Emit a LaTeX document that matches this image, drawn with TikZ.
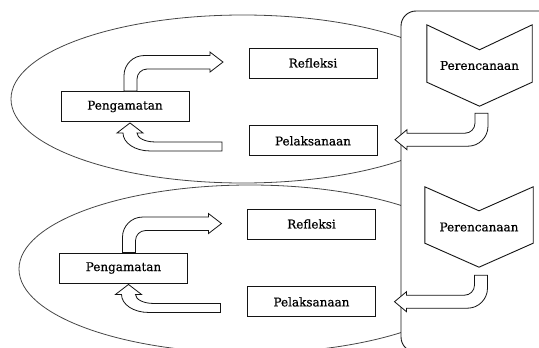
\documentclass[tikz,border=0pt]{standalone}
\usepackage{fontspec}
\setmainfont[FakeBold=0.6]{DejaVu Serif}
\usetikzlibrary{positioning,calc}
\definecolor{ink}{RGB}{20,20,20}
\definecolor{rim}{RGB}{70,70,70}

\begin{document}
\begin{tikzpicture}[
  x=1pt, y=-1pt,
  font=\fontsize{12}{14}\selectfont,
  actbox/.style={draw=ink, fill=white, line width=0.9pt, minimum width=128pt,
    minimum height=30pt, inner sep=0pt},
  planbox/.style={minimum width=105pt, minimum height=81pt, inner sep=0pt},
  chevron/.style={draw=ink, line width=0.9pt},
  blockarr/.style={draw=ink, fill=white, line width=0.8pt},
  phase/.style={draw=rim, line width=0.8pt},
  panel/.style={draw=ink, fill=white, line width=0.9pt, rounded corners=15pt}
]
\useasboundingbox (0,0) rectangle (539,348);
\clip (0,0) rectangle (539,348);
% two cycles behind the planning panel
\draw[phase] (243,99) ellipse [x radius=232pt, y radius=84pt];
\draw[phase] (250,269) ellipse [x radius=231pt, y radius=84pt];
\draw[panel] (401,11) rectangle (570,352);

% first cycle
\node[actbox] (obs1) at (125,106.5) {Pengamatan};
\node[actbox] (refl1) at (313,63) {Refleksi};
\node[actbox, below=47pt of refl1] (pel1) {Pelaksanaan};
\node[planbox] (plan1) at (479.5,65.5) {Perencanaan};
\draw[chevron] (plan1.north west) -- ($(plan1.north)+(0,25)$) -- (plan1.north east)
  -- ($(plan1.south east)+(0,-24)$) -- (plan1.south) -- ($(plan1.south west)+(0,-24)$) -- cycle;
\draw[blockarr, shift={(obs1.north)}] (-1,0) -- (-1,-15.5) .. controls (-1,-26.5) and (8,-35.5) .. (19,-35.5)
  -- (85,-35.5) -- (85,-39) -- (98,-29) -- (85,-19) -- (85,-22) -- (22,-22)
  .. controls (16.5,-22) and (12,-17.5) .. (12,-12) -- (12,0) -- cycle;
\draw[blockarr, shift={(obs1.south)}] (97,20) -- (97,29) -- (25,29) .. controls (10,29) and (-2,21) .. (-2,11)
  -- (-8,11) -- (5,1) -- (18,11) -- (12,11) .. controls (12,16) and (20,20) .. (30,20) -- cycle;
\draw[blockarr, shift={(plan1.south)}] (-4.5,7) -- (8.5,7) -- (8.5,20) .. controls (8.5,31) and (-0.5,40) .. (-11.5,40)
  -- (-72.5,40) -- (-72.5,43.5) -- (-84.5,33.5) -- (-72.5,23.5) -- (-72.5,27) -- (-14.5,27)
  .. controls (-9,27) and (-4.5,22.5) .. (-4.5,17) -- cycle;

% second cycle
\node[actbox] (obs2) at (123.5,268) {Pengamatan};
\node[actbox] (refl2) at (311.5,224) {Refleksi};
\node[actbox, below=47pt of refl2] (pel2) {Pelaksanaan};
\node[planbox, minimum width=108pt, minimum height=80pt] (plan2) at (479,227) {Perencanaan};
\draw[chevron] (plan2.north west) -- ($(plan2.north)+(0,24)$) -- (plan2.north east)
  -- ($(plan2.south east)+(0,-24)$) -- (plan2.south) -- ($(plan2.south west)+(0,-24)$) -- cycle;
\draw[blockarr, shift={(obs2.north)}] (-1,0) -- (-1,-15.5) .. controls (-1,-26.5) and (8,-35.5) .. (19,-35.5)
  -- (85,-35.5) -- (85,-39) -- (98,-29) -- (85,-19) -- (85,-22) -- (22,-22)
  .. controls (16.5,-22) and (12,-17.5) .. (12,-12) -- (12,0) -- cycle;
\draw[blockarr, shift={(obs2.south)}] (97,20) -- (97,29) -- (25,29) .. controls (10,29) and (-2,21) .. (-2,11)
  -- (-8,11) -- (5,1) -- (18,11) -- (12,11) .. controls (12,16) and (20,20) .. (30,20) -- cycle;
\draw[blockarr, shift={(plan2.south)}] (-4.5,8) -- (8.5,8) -- (8.5,21) .. controls (8.5,32) and (-0.5,41) .. (-11.5,41)
  -- (-72.5,41) -- (-72.5,44.5) -- (-84.5,34.5) -- (-72.5,24.5) -- (-72.5,28) -- (-14.5,28)
  .. controls (-9,28) and (-4.5,23.5) .. (-4.5,18) -- cycle;
\end{tikzpicture}
\end{document}
